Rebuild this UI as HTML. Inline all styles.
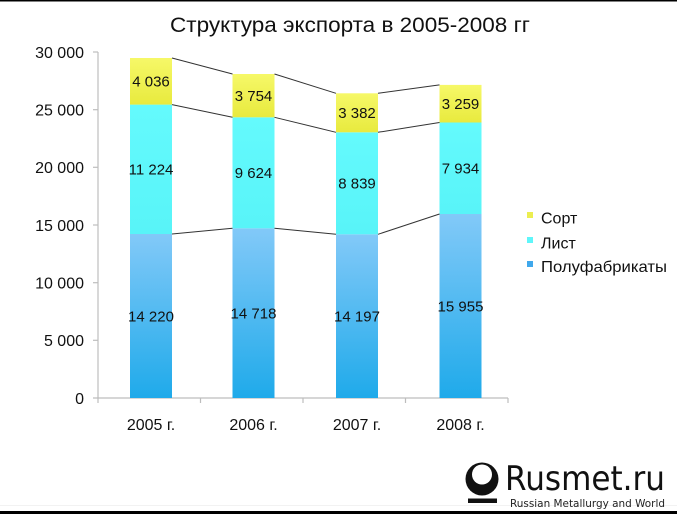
<!DOCTYPE html>
<html>
<head>
<meta charset="utf-8">
<style>
  html,body{margin:0;padding:0;background:#fff;}
  svg{display:block;}
  text{font-family:"Liberation Sans","DejaVu Sans",sans-serif;fill:#111;}
</style>
</head>
<body>
<svg width="677" height="514" viewBox="0 0 677 514" xmlns="http://www.w3.org/2000/svg">
  <defs>
    <linearGradient id="gBlue" x1="0" y1="0" x2="0" y2="1">
      <stop offset="0" stop-color="#82c9f8"/>
      <stop offset="1" stop-color="#1faaea"/>
    </linearGradient>
    <linearGradient id="gCyan" x1="0" y1="0" x2="0" y2="1">
      <stop offset="0" stop-color="#64fafd"/>
      <stop offset="1" stop-color="#58f4f8"/>
    </linearGradient>
    <linearGradient id="gYel" x1="0" y1="0" x2="0" y2="1">
      <stop offset="0" stop-color="#f6f868"/>
      <stop offset="1" stop-color="#e8ea3e"/>
    </linearGradient>
  </defs>

  <rect x="0" y="0" width="677" height="514" fill="#fff"/>
  <!-- top and bottom black borders -->
  <rect x="0" y="0" width="677" height="1.5" fill="#000"/>
  <rect x="0" y="505" width="677" height="1" fill="#f2f2f2"/>
  <rect x="0" y="511" width="677" height="3" fill="#000"/>

  <!-- title -->
  <text x="350" y="32" font-size="21.5" text-anchor="middle" textLength="360" lengthAdjust="spacingAndGlyphs">Структура экспорта в 2005-2008 гг</text>

  <!-- axes -->
  <g stroke="#bdbdbd" stroke-width="1.2" fill="none">
    <line x1="98" y1="52" x2="98" y2="398"/>
    <line x1="93" y1="52" x2="98" y2="52"/>
    <line x1="93" y1="109.7" x2="98" y2="109.7"/>
    <line x1="93" y1="167.3" x2="98" y2="167.3"/>
    <line x1="93" y1="225" x2="98" y2="225"/>
    <line x1="93" y1="282.7" x2="98" y2="282.7"/>
    <line x1="93" y1="340.3" x2="98" y2="340.3"/>
    <line x1="93" y1="398" x2="508" y2="398"/>
    <line x1="98" y1="398" x2="98" y2="403"/>
    <line x1="200.5" y1="398" x2="200.5" y2="403"/>
    <line x1="303" y1="398" x2="303" y2="403"/>
    <line x1="405.5" y1="398" x2="405.5" y2="403"/>
    <line x1="508" y1="398" x2="508" y2="403"/>
  </g>

  <!-- y labels -->
  <g font-size="16" text-anchor="end">
    <text x="84" y="57.8">30 000</text>
    <text x="84" y="115.5">25 000</text>
    <text x="84" y="173.1">20 000</text>
    <text x="84" y="230.8">15 000</text>
    <text x="84" y="288.5">10 000</text>
    <text x="84" y="346.1">5 000</text>
    <text x="84" y="403.8">0</text>
  </g>

  <!-- x labels -->
  <g font-size="16" text-anchor="middle">
    <text x="151" y="430">2005 г.</text>
    <text x="253.5" y="430">2006 г.</text>
    <text x="357" y="430">2007 г.</text>
    <text x="460.5" y="430">2008 г.</text>
  </g>

  <!-- bars -->
  <!-- 2005 -->
  <rect x="130" y="234" width="42" height="164" fill="url(#gBlue)"/>
  <rect x="130" y="104.6" width="42" height="129.4" fill="url(#gCyan)"/>
  <rect x="130" y="58" width="42" height="46.6" fill="url(#gYel)"/>
  <!-- 2006 -->
  <rect x="232.5" y="228.3" width="42" height="169.7" fill="url(#gBlue)"/>
  <rect x="232.5" y="117.3" width="42" height="111" fill="url(#gCyan)"/>
  <rect x="232.5" y="74" width="42" height="43.3" fill="url(#gYel)"/>
  <!-- 2007 -->
  <rect x="336" y="234.3" width="42" height="163.7" fill="url(#gBlue)"/>
  <rect x="336" y="132.3" width="42" height="102" fill="url(#gCyan)"/>
  <rect x="336" y="93.3" width="42" height="39" fill="url(#gYel)"/>
  <!-- 2008 -->
  <rect x="439.5" y="214" width="42" height="184" fill="url(#gBlue)"/>
  <rect x="439.5" y="122.5" width="42" height="91.5" fill="url(#gCyan)"/>
  <rect x="439.5" y="84.9" width="42" height="37.6" fill="url(#gYel)"/>

  <!-- series lines -->
  <g stroke="#333" stroke-width="1" fill="none">
    <polyline points="172,234 232.5,228.3"/>
    <polyline points="274.5,228.3 336,234.3"/>
    <polyline points="378,234.3 439.5,214"/>
    <polyline points="172,104.6 232.5,117.3"/>
    <polyline points="274.5,117.3 336,132.3"/>
    <polyline points="378,132.3 439.5,122.5"/>
    <polyline points="172,58 232.5,74"/>
    <polyline points="274.5,74 336,93.3"/>
    <polyline points="378,93.3 439.5,84.9"/>
  </g>

  <!-- data labels -->
  <g font-size="15" text-anchor="middle">
    <text x="151" y="321.3">14 220</text>
    <text x="151" y="174.6">11 224</text>
    <text x="151" y="86.6">4 036</text>
    <text x="253.5" y="318.5">14 718</text>
    <text x="253.5" y="178.1">9 624</text>
    <text x="253.5" y="100.9">3 754</text>
    <text x="357" y="321.5">14 197</text>
    <text x="357" y="188.6">8 839</text>
    <text x="357" y="118.1">3 382</text>
    <text x="460.5" y="311.3">15 955</text>
    <text x="460.5" y="173.5">7 934</text>
    <text x="460.5" y="109">3 259</text>
  </g>

  <!-- legend -->
  <rect x="527" y="212" width="6" height="6" fill="#ecee50"/>
  <rect x="527" y="237" width="6" height="6" fill="#5ff6fa"/>
  <rect x="527" y="261" width="6" height="6" fill="#3fa8ec"/>
  <g font-size="16">
    <text x="541" y="223.5">Сорт</text>
    <text x="541" y="248.5">Лист</text>
    <text x="541" y="272" textLength="126" lengthAdjust="spacingAndGlyphs">Полуфабрикаты</text>
  </g>

  <!-- logo -->
  <circle cx="482" cy="479" r="16.5" fill="#111"/>
  <circle cx="482" cy="474.5" r="10" fill="#fff"/>
  <rect x="468" y="498.5" width="29" height="4.5" fill="#111"/>
  <text x="505" y="490" font-size="34" style="font-family:'DejaVu Sans','Liberation Sans',sans-serif;fill:#111" textLength="160" lengthAdjust="spacingAndGlyphs">Rusmet.ru</text>
  <text x="510" y="507" font-size="11" style="font-family:'DejaVu Sans','Liberation Sans',sans-serif;fill:#222" textLength="155" lengthAdjust="spacingAndGlyphs">Russian Metallurgy and World</text>
</svg>
</body>
</html>
